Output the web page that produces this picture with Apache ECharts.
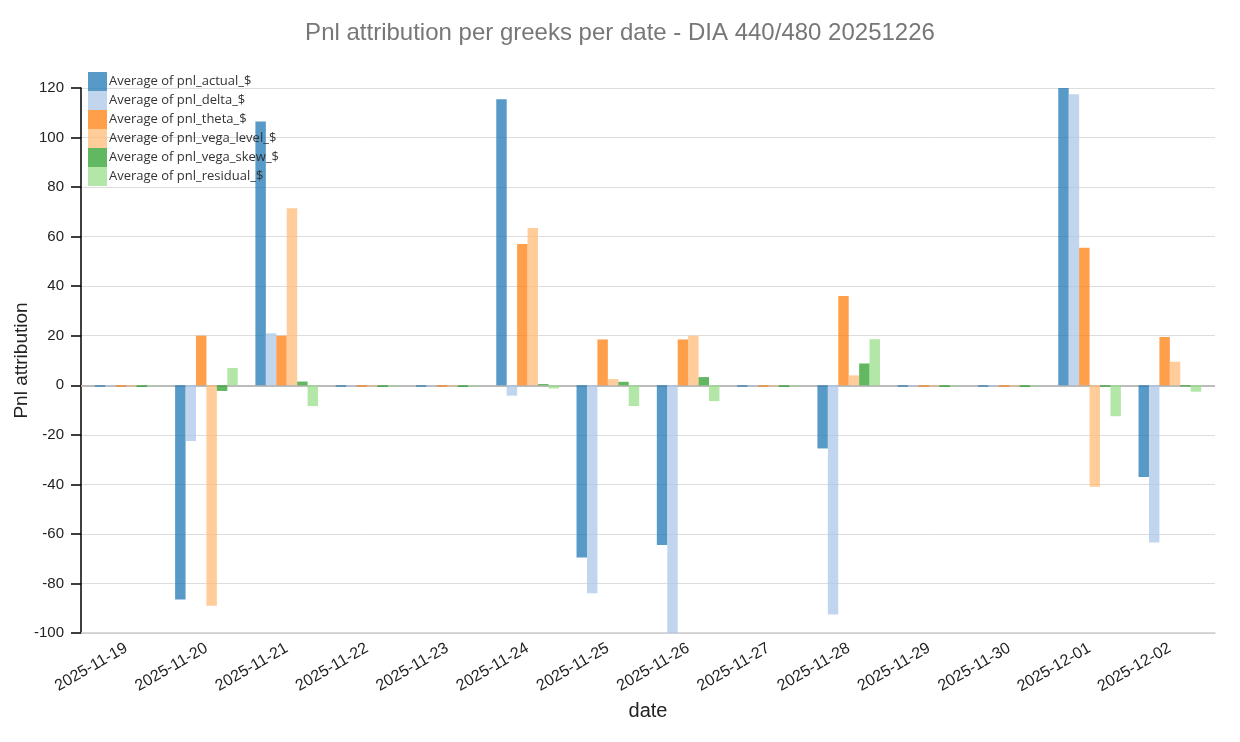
<!DOCTYPE html>
<html>
<head>
<meta charset="utf-8">
<title>Pnl attribution</title>
<script src="https://cdn.jsdelivr.net/npm/echarts@6/dist/echarts.min.js"></script>
<style>
  html, body { margin: 0; padding: 0; background: #fff; }
  #chart { width: 1240px; height: 742px; }
</style>
</head>
<body>
<div id="chart"></div>
<script>
// dates on the x axis
const dates = ['2025-11-19', '2025-11-20', '2025-11-21', '2025-11-22', '2025-11-23', '2025-11-24', '2025-11-25',
    '2025-11-26', '2025-11-27', '2025-11-28', '2025-11-29', '2025-11-30', '2025-12-01', '2025-12-02'];

// one array per greek
const pnlActual    = [-0.6, -86.5, 106.5, -0.6, -0.6, 115.5, -69.5, -64.5, -0.6, -25.5, -0.6, -0.6, 120, -37];
const pnlDelta     = [-0.3, -22.5, 21, -0.3, -0.3, -4.2, -84, -100, -0.3, -92.5, -0.3, -0.3, 117.5, -63.5];
const pnlTheta     = [-0.6, 20, 20, -0.6, -0.6, 57, 18.5, 18.5, -0.6, 36, -0.6, -0.6, 55.5, 19.5];
const pnlVegaLevel = [-0.4, -89, 71.5, -0.4, -0.4, 63.5, 2.5, 20, -0.4, 4, -0.4, -0.4, -41, 9.5];
const pnlVegaSkew  = [-0.7, -2.3, 1.5, -0.7, -0.7, 0.5, 1.4, 3.3, -0.7, 8.8, -0.7, -0.7, -0.6, -0.5];
const pnlResidual  = [-0.3, 7, -8.4, -0.3, -0.3, -1.3, -8.4, -6.4, -0.3, 18.6, -0.3, -0.3, -12.5, -2.6];

const names = ['Average of pnl_actual_$', 'Average of pnl_delta_$', 'Average of pnl_theta_$',
    'Average of pnl_vega_level_$', 'Average of pnl_vega_skew_$', 'Average of pnl_residual_$'];
const colors = ['#1f77b4', '#aec7e8', '#ff7f0e', '#ffbb78', '#2ca02c', '#98df8a'];
const values = [pnlActual, pnlDelta, pnlTheta, pnlVegaLevel, pnlVegaSkew, pnlResidual];

const yMin = -100, yMax = 120;
const tickFont = '"Liberation Sans", Helvetica, Arial, sans-serif';

// bars live in grid 1 (a bit narrower so the bands have some outer padding)
var series = names.map(function (name, i) {
    return {
        name: name,
        type: 'bar',
        xAxisIndex: 1,
        yAxisIndex: 1,
        data: values[i],
        barGap: '0%',
        barCategoryGap: '22%',
        z: 3,
        itemStyle: { color: colors[i], opacity: 0.75 },
        emphasis: { disabled: true }
    };
});

// zero line across the full plot, under the bars
series.push({
    name: 'zero',
    type: 'line',
    xAxisIndex: 0,
    yAxisIndex: 0,
    data: [],
    silent: true,
    markLine: {
        silent: true,
        z: 1,
        symbol: 'none',
        label: { show: false },
        lineStyle: { color: '#bbb', width: 2, type: 'solid' },
        data: [{ yAxis: 0 }]
    }
});

var option = {
    animation: false,
    title: {
        text: 'Pnl attribution per greeks per date - DIA 440/480 20251226',
        left: 'center',
        top: 16,
        textStyle: { fontFamily: tickFont, fontSize: 24, fontWeight: 'normal', color: '#777' }
    },
    legend: {
        orient: 'vertical',
        left: 83,
        top: 67,
        itemWidth: 19,
        itemHeight: 19,
        itemGap: 0,
        icon: 'rect',
        textStyle: { fontFamily: '"Open Sans", "Noto Sans", sans-serif', fontSize: 13, color: '#333', padding: [0, 0, 0, -3] },
        data: names
    },
    grid: [
        { left: 81, right: 25, top: 88, bottom: 109, outerBoundsMode: 'none' },
        { left: 86, right: 30, top: 88, bottom: 109, outerBoundsMode: 'none' }
    ],
    xAxis: [
        {
            gridIndex: 0,
            type: 'value',
            min: 0,
            max: 1,
            axisLine: { show: true, onZero: false, lineStyle: { color: '#ccc', width: 1.5 } },
            axisTick: { show: false },
            axisLabel: { show: false },
            splitLine: { show: false }
        },
        {
            gridIndex: 1,
            type: 'category',
            data: dates,
            name: 'date',
            nameLocation: 'middle',
            nameGap: 68,
            nameMoveOverlap: false,
            nameTextStyle: { fontFamily: tickFont, fontSize: 20, color: '#222' },
            axisLine: { show: false },
            axisTick: { alignWithLabel: true, length: 9, lineStyle: { color: '#000', width: 1.5 } },
            axisLabel: { rotate: 30, fontFamily: tickFont, fontSize: 16, color: '#222', margin: 14, interval: 0 }
        }
    ],
    yAxis: [
        {
            gridIndex: 0,
            type: 'value',
            min: yMin,
            max: yMax,
            interval: 20,
            name: 'Pnl attribution',
            nameLocation: 'middle',
            nameGap: 50,
            nameMoveOverlap: false,
            nameTextStyle: { fontFamily: tickFont, fontSize: 19, color: '#222' },
            axisLine: { show: true, lineStyle: { color: '#000', width: 1.5 } },
            axisTick: { show: true, length: 10, lineStyle: { color: '#000', width: 1.5 } },
            axisLabel: { fontFamily: tickFont, fontSize: 15, color: '#222', margin: 17 },
            splitLine: { lineStyle: { color: '#ddd', width: 1 } }
        },
        {
            gridIndex: 1,
            type: 'value',
            min: yMin,
            max: yMax,
            interval: 20,
            show: false,
            splitLine: { show: false }
        }
    ],
    series: series
};

var myChart = echarts.init(document.getElementById('chart'));
myChart.setOption(option);
</script>
</body>
</html>
